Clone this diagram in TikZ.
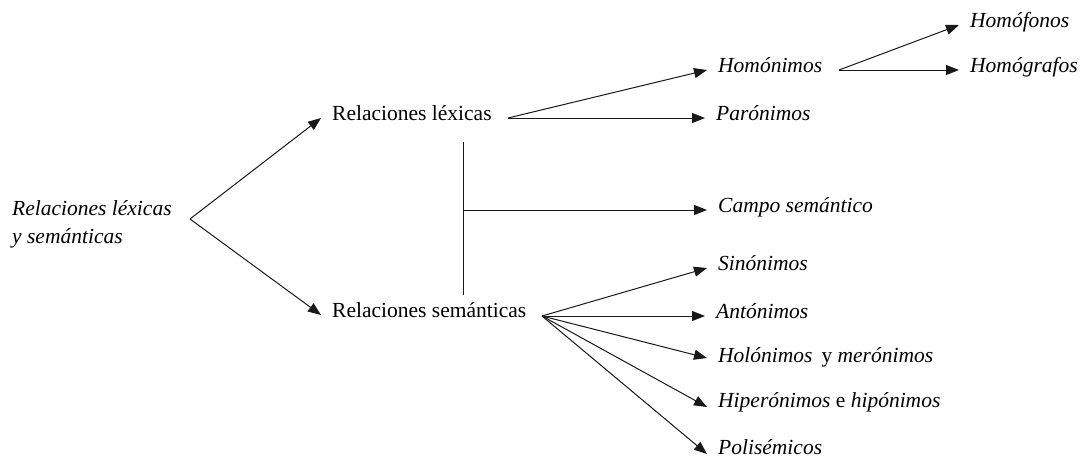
\documentclass[tikz,border=0pt]{standalone}
\usepackage{fontspec}
\setmainfont{Liberation Serif}
\usetikzlibrary{arrows.meta}
\begin{document}
\begin{tikzpicture}[x=1pt,y=-1pt,
  lbl/.style={anchor=west,inner xsep=11pt,inner ysep=0pt,text height=0.68em,text depth=0.2em,font=\fontsize{21.5}{28}\selectfont},
  arr/.style={-{Triangle[length=13pt,width=10pt]},line width=1pt,draw=black!90},
  ln/.style={line width=1pt,draw=black!90}]
\useasboundingbox[fill=white] (0,0) rectangle (1085,464);

% root
\node[anchor=west,inner sep=0pt,align=left,font=\fontsize{21.5}{28}\selectfont\itshape] (root) at (12,224) {Relaciones léxicas\\y semánticas};
\coordinate (rootx) at (190,219);

% level 1
\node[lbl] (rl) at (321,118) {Relaciones léxicas};
\node[lbl] (rs) at (321,315) {Relaciones semánticas};
\coordinate (rlx) at (508,118);
\coordinate (rsx) at (542,316);

% vertical bracket
\coordinate (vt) at (463,142);
\coordinate (vb) at (463,295);
\coordinate (vm) at (463,210);

% level 2
\node[lbl] (hom) at (707,70) {\textit{Homónimos}};
\node[lbl] (par) at (705,118) {\textit{Parónimos}};
\node[lbl] (campo) at (707,210) {\textit{Campo semántico}};
\node[lbl] (sin) at (707,268) {\textit{Sinónimos}};
\node[lbl] (ant) at (705,316) {\textit{Antónimos}};
\node[lbl] (hol) at (707,360) {\textit{Holónimos}\, y \textit{merónimos}};
\node[lbl] (hip) at (707,405) {\textit{Hiperónimos} e \textit{hipónimos}};
\node[lbl] (pol) at (707,452) {\textit{Polisémicos}};
\coordinate (homx) at (839,70);

% level 3
\node[lbl] (hfon) at (959,25) {\textit{Homófonos}};
\node[lbl] (hgra) at (959,70) {\textit{Homógrafos}};

% connectors
\draw[arr] (rootx) -- (rl.west);
\draw[arr] (rootx) -- (rs.west);
\draw[arr] (rlx) -- (hom.west);
\draw[arr] (rlx) -- (par.west);
\draw[ln] (vt) -- (vb);
\draw[arr] (vm) -- (campo.west);
\draw[arr] (rsx) -- (sin.west);
\draw[arr] (rsx) -- (ant.west);
\draw[arr] (rsx) -- ([yshift=2pt]hol.west);
\draw[arr] (rsx) -- ([yshift=-2pt]hip.west);
\draw[arr] (rsx) -- ([yshift=-2pt]pol.west);
\draw[arr] (homx) -- (hfon.west);
\draw[arr] (homx) -- (hgra.west);
\end{tikzpicture}
\end{document}
